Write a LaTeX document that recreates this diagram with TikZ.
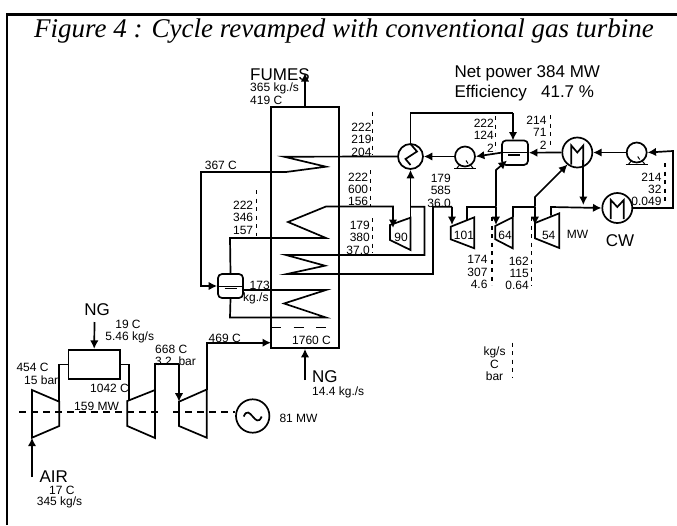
\documentclass[tikz,border=0pt]{standalone}
\usepackage{fontspec}
\setmainfont{Liberation Sans}
\newfontfamily\titlefont{Liberation Serif}
\usetikzlibrary{arrows.meta}
\newcommand{\reading}[6]{
	\node[data] (#1) at (#2) {#3};
	\coordinate (#1a) at (#4,#5);
	\coordinate (#1b) at (#4,#6);
	\draw[guide] (#1a) -- (#1b);
}
\newcommand{\turbine}[7]{
	\coordinate (#1-lt) at (#2,#4);
	\coordinate (#1-lb) at (#2,#5);
	\coordinate (#1-rt) at (#3,#6);
	\coordinate (#1-rb) at (#3,#7);
	\draw[pipe] (#1-lt) -- (#1-rt) -- (#1-rb) -- (#1-lb) -- cycle;
}
\newcommand{\pump}[3]{
	\node[wheel] (#1) at (#2,#3) {};
	\draw[pipe,line width=1pt] (#1.center) ++(-11,11.5) -- ++(22,0);
	\draw[pipe,line width=1pt] (#1.center) ++(-5,8) -- ++(-3,3.5);
	\draw[pipe,line width=1pt] (#1.center) ++(5,8) -- ++(3,3.5);
	\draw[pipe,line width=1pt] (#1.center) ++(1,4) -- ++(2,3);
}
\begin{document}
\begin{tikzpicture}[x=1pt,y=-1pt]
	\tikzset{pipe/.style = {line width=1.7pt,line join=miter}}
	\tikzset{flow/.style = {pipe,-{Latex[length=8.5pt,width=8.5pt]}}}
	\tikzset{guide/.style = {line width=1.5pt,dash pattern=on 4pt off 4.5pt}}
	\tikzset{data/.style = {anchor=east,align=right,inner sep=0pt,font=\fontsize{12}{12.4}\selectfont}}
	\tikzset{lbl/.style = {anchor=west,inner sep=0pt,font=\fontsize{12}{12.4}\selectfont}}
	\tikzset{big/.style = {anchor=west,inner sep=0pt,font=\fontsize{17}{19.5}\selectfont}}
	\tikzset{wheel/.style = {circle,draw,line width=1.7pt,minimum size=20pt,inner sep=0pt}}
	\tikzset{cooler/.style = {circle,draw,line width=1.7pt,minimum size=30pt,inner sep=0pt}}
	\tikzset{drum/.style = {rectangle,draw,line width=1.7pt,rounded corners=4pt,minimum width=25pt,minimum height=24pt,inner sep=0pt}}
	\useasboundingbox (0,0) rectangle (677,525);
	%frame and title
	\coordinate (f0) at (7,525);
	\coordinate (f1) at (7,14.5);
	\coordinate (f2) at (677,14.5);
	\draw[line width=2.2pt] (f0) -- (f1) -- (f2);
	\node[anchor=center,inner sep=0pt,font=\titlefont\itshape\fontsize{27}{29}\selectfont] (title) at (344,31.5) {Figure 4 : Cycle revamped with conventional gas turbine};
	\node[big] (net) at (454.3,73.3) {Net power 384 MW};
	\node[big] (eff) at (454.3,92.7) {Efficiency\ \ \ 41.7 \%};
	%boiler
	\node[rectangle,draw,line width=1.7pt,minimum width=68pt,minimum height=241pt,inner sep=0pt] (HRSG) at (305,227.5) {};
	\coordinate (top) at (305,73);
	\draw[flow] (HRSG.north) -- (top);
	\node[big] (fumes) at (250,74.5) {FUMES};
	\node[lbl] (fumesA) at (250,88.5) {365 kg./s};
	\node[lbl] (fumesB) at (250,100) {419 C};
	\coordinate (b0) at (271,327.5);
	\coordinate (b1) at (330,327.5);
	\draw[pipe,dash pattern=on 10pt off 12.5pt] (b0) -- (b1);
	\node[lbl] (flame) at (292,340) {1760 C};
	\coordinate (n0) at (305,380);
	\draw[flow] (n0) -- (HRSG.south);
	\node[big] (ngB) at (312,377) {NG};
	\node[lbl] (ngBf) at (312,392) {14.4 kg./s};
	%main exchanger and drum
	\node[cooler,minimum size=25pt] (E1) at (410.5,156.5) {};
	\node[drum] (D1) at (230.5,286) {};
	\draw[pipe,line width=1pt] (D1.west) -- (D1.east);
	\draw[pipe] (D1.center) ++(-6,2.5) -- ++(12,0);
	\draw[pipe] (E1.center) ++(0,8.5) -- ++(-5,-6) -- ++(11.5,-7.5) -- ++(-6.5,-7.5);
	\node[lbl] (dFlow) at (248,285) {\hspace*{1.5pt}173};
	\node[lbl] (dFlowB) at (243,298) {kg./s};
	%coil 1
	\coordinate (c10) at (284,156.7);
	\coordinate (c11) at (326,166.7);
	\coordinate (c12) at (286,172);
	\coordinate (c13) at (201,172);
	\coordinate (c14) at (201,286);
	\draw[flow] (E1.west) -- (c10) -- (c11) -- (c12) -- (c13) -- (c14) -- (D1.west);
	\node[lbl] (t367) at (204.7,165.7) {367 C};
	%coil 2
	\coordinate (c20) at (230,238);
	\coordinate (c21) at (326,238);
	\coordinate (c22) at (288,222);
	\coordinate (c23) at (326,206.5);
	\coordinate (c24) at (393,206.5);
	\coordinate (c25) at (393,228);
	\draw[flow] (D1.north) -- (c20) -- (c21) -- (c22) -- (c23) -- (c24) -- (c25);
	%coil 3
	\coordinate (c30) at (243,290);
	\coordinate (c31) at (326,290);
	\coordinate (c32) at (284,303.5);
	\coordinate (c33) at (326,317.5);
	\coordinate (c34) at (230,317.5);
	\draw[pipe] (c30) -- (c31) -- (c32) -- (c33) -- (c34) -- (D1.south);
	%reheat
	\coordinate (r0) at (410.5,206.7);
	\coordinate (r1) at (424.5,206.7);
	\coordinate (r2) at (424.5,255);
	\coordinate (r3) at (286,255);
	\coordinate (r4) at (325,265.7);
	\coordinate (r5) at (287,274);
	\coordinate (r6) at (433,274);
	\coordinate (r7) at (433,206.7);
	\coordinate (r8) at (452,206.7);
	\coordinate (r9) at (452,225);
	\draw[pipe] (r0) -- (r1) -- (r2) -- (r3) -- (r4) -- (r5) -- (r6) -- (r7) -- (r8);
	\draw[flow] (r8) -- (r9);
	%steam turbines
	\turbine{T90}{390}{410.5}{225}{240}{217.7}{250}
	\turbine{T101}{450.7}{474.3}{226.7}{239.3}{217.3}{248.3}
	\turbine{T64}{495.3}{512.7}{226}{239.3}{217.3}{248.3}
	\turbine{T54}{535}{559.3}{223}{238.3}{213.3}{248}
	\node (n90) at (401,237.7) [lbl,anchor=center] {90};
	\node (n101) at (464,235) [lbl,anchor=center] {101};
	\node (n64) at (505,235) [lbl,anchor=center] {64};
	\node (n54) at (548.7,235) [lbl,anchor=center] {54};
	\node[lbl] (mw) at (566.7,234.7) {MW};
	\draw[flow] (T90-rt) -- (E1.south);
	%water side
	\coordinate (w0) at (410.5,113);
	\coordinate (w1) at (513,113);
	\coordinate (w2) at (513,140.5);
	\node[drum,minimum width=26pt,minimum height=24.5pt] (D2) at (515,152.7) {};
	\draw[pipe,line width=1pt] (D2.west) -- (D2.east);
	\draw[pipe] (D2.center) ++(-7,2) -- ++(12,0);
	\draw[pipe] (E1.north) -- (w0) -- (w1);
	\draw[flow] (w1) -- (w2);
	\pump{P1}{465}{156.5}
	\draw[flow] (D2.west) -- (P1.east);
	\draw[flow] (P1.west) -- (E1.east);
	\node[cooler] (C1) at (577.3,152.5) {};
	\node[cooler] (CW) at (617.3,208) {};
	\draw[pipe] (C1.center) ++(-6,12) -- ++(0,-19) -- ++(6,7) -- ++(6,-7) -- ++(0,19);
	\draw[pipe] (CW.center) ++(-6.5,11) -- ++(0,-19) -- ++(6.5,7) -- ++(6.5,-7) -- ++(0,19);
	\draw[flow] (C1.west) -- (D2.east);
	\pump{P2}{636.7}{152.5}
	\draw[flow] (P2.west) -- (C1.east);
	\node[big,anchor=center] (cw) at (620,240.7) {CW};
	%turbine bleeds
	\coordinate (s0) at (467.3,220);
	\coordinate (s1) at (467.3,206.7);
	\coordinate (s2) at (496,206.7);
	\coordinate (s3) at (496,225);
	\coordinate (s4) at (496,170);
	\coordinate (s5) at (507,160.5);
	\draw[pipe] (s0) -- (s1) -- (s2);
	\draw[flow] (s2) -- (s3);
	\draw[flow] (s2) -- (s4) -- (s5);
	\coordinate (s6) at (512.7,206.7);
	\coordinate (s7) at (535,206.7);
	\coordinate (s8) at (535,225);
	\coordinate (s9) at (535,197);
	\coordinate (s10) at (567.5,164.5);
	\draw[pipe] (T64-rt) -- (s6) -- (s7);
	\draw[flow] (s7) -- (s8);
	\draw[flow] (s7) -- (s9) -- (s10);
	\coordinate (k0) at (583.3,160);
	\coordinate (k1) at (583.3,205);
	\draw[flow] (k0) -- (k1);
	\coordinate (s11) at (551,215.5);
	\coordinate (s12) at (551,207);
	\draw[flow] (s11) -- (s12) -- (CW.west);
	\coordinate (o0) at (673,208);
	\coordinate (o1) at (673,151);
	\draw[flow] (CW.east) -- (o0) -- (o1) -- (P2.east);
	%readings
	\reading{R1}{371.7,139.8}{222\\219\\204}{372.7}{111.7}{155}
	\reading{R2}{368.3,189.3}{222\\600\\156}{370.7}{170}{206}
	\reading{R3}{253.3,217.8}{222\\346\\157}{256.7}{190}{236}
	\reading{R4}{370,237.8}{179\\380\\37.0}{372.7}{218}{253}
	\reading{R5}{494,135.5}{222\\124\\2}{495.7}{116}{150}
	\reading{R6}{546.7,132.5}{214\\71\\2}{550.7}{115}{148}
	\reading{R7}{661.7,189.3}{214\\32\\0.049}{665}{163}{205}
	\reading{R8}{487.7,272.3}{174\\307\\4.6}{492}{217}{285}
	\reading{R9}{529,273.3}{162\\115\\0.64}{531.7}{217}{286}
	\node[data] (R10) at (451,190.7) {179\\585\\36.0};
	\node[data,align=center,anchor=center] (R11) at (494.5,364) {kg/s\\C\\bar};
	\coordinate (R11a) at (512.7,342.7);
	\coordinate (R11b) at (512.7,378);
	\draw[guide] (R11a) -- (R11b);
	%gas turbine
	\turbine{T1}{32}{59.3}{390}{437.7}{401.7}{426}
	\turbine{T2}{127.3}{155}{401}{426}{390}{438}
	\turbine{T3}{179}{206.7}{401.7}{426}{389.5}{437.7}
	\node[rectangle,draw,line width=1.7pt,minimum width=51.7pt,minimum height=29.3pt,inner sep=0pt] (CC) at (94.2,364.4) {};
	\coordinate (g0) at (59.3,364.4);
	\coordinate (g1) at (129,364.4);
	\coordinate (g2) at (129,401);
	\draw[pipe] (T1-rt) -- (g0) -- (CC.west);
	\draw[pipe] (CC.east) -- (g1) -- (g2);
	\coordinate (g3) at (155,364);
	\coordinate (g4) at (179,364);
	\draw[pipe] (T2-rt) -- (g3) -- (g4);
	\draw[flow] (g4) -- (T3-lt);
	\coordinate (g5) at (206.7,342.7);
	\coordinate (g6) at (271,342.7);
	\draw[flow] (T3-rt) -- (g5) -- (g6);
	\coordinate (a0) at (32,477);
	\draw[flow] (a0) -- (T1-lb);
	\coordinate (n1) at (94.5,322);
	\draw[flow] (n1) -- (CC.north);
	%shaft
	\node[circle,draw,line width=1.7pt,minimum size=33.4pt,inner sep=0pt] (G) at (252.7,416) {};
	\draw[pipe] (G.center) ++(-9,0.5) .. controls +(6,-14) and +(-6,14) .. ++(18,0);
	\coordinate (h0) at (19.3,412.3);
	\coordinate (h1) at (158.3,412.3);
	\coordinate (h2) at (173.3,412.3);
	\coordinate (h3) at (235,412.3);
	\draw[pipe,dash pattern=on 7pt off 5pt] (h0) -- (h1);
	\draw[pipe,dash pattern=on 7pt off 5pt] (h2) -- (h3);
	%gas turbine labels
	\node[big,anchor=center] (ngA) at (97,310) {NG};
	\node[lbl,anchor=center] (ngAa) at (128,324) {19 C};
	\node[lbl,anchor=center] (ngAb) at (129.7,337) {5.46 kg/s};
	\node[lbl] (t454) at (16.3,367.7) {454 C};
	\node[lbl] (p15) at (24,380) {15 bar};
	\node[lbl] (t1042) at (90,388) {1042 C};
	\node[lbl] (t668) at (155,349) {668 C};
	\node[lbl] (p32) at (155,361) {3.2\ \ bar};
	\node[lbl] (t469) at (208.5,338) {469 C};
	\node[lbl] (mw159) at (74,406.5) {159 MW};
	\node[lbl] (mw81) at (279.3,418) {81 MW};
	\node[big] (air) at (39.3,476.5) {AIR};
	\node[lbl] (airA) at (49,490.5) {17 C};
	\node[lbl] (airB) at (36.7,502.5) {345 kg/s};
\end{tikzpicture}
\end{document}
